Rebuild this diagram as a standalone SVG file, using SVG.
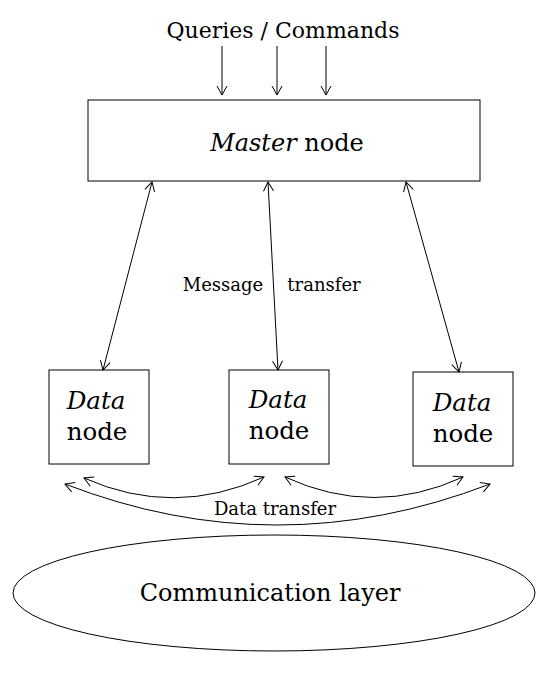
<svg xmlns="http://www.w3.org/2000/svg" width="558" height="674" viewBox="0 0 558 674">
<style>
text{font-family:"DejaVu Serif",serif;fill:#000}
.box{fill:#fff;stroke:#000;stroke-width:1}
.c{fill:none;stroke:#000;stroke-width:1}
.big{font-size:24px}
.dn{font-size:24.5px}
.mid{font-size:22px}
.sm{font-size:18px}
</style>
<defs>
<marker id="ah" viewBox="-10 -6 12 12" refX="0" refY="0" markerWidth="12" markerHeight="12" markerUnits="userSpaceOnUse" orient="auto-start-reverse">
<path d="M-9,-5 L0,0 L-9,5" fill="none" stroke="#000" stroke-width="1"/>
</marker>
</defs>
<rect width="558" height="674" fill="#fff"/>
<g id="queries"><text class="mid" x="283" y="38" text-anchor="middle">Queries / Commands</text></g>
<g id="master">
<rect class="box" x="88" y="100" width="392" height="81"/>
<text class="big" x="287" y="151" text-anchor="middle"><tspan font-style="italic">Master</tspan> node</text>
</g>
<g id="data1">
<rect class="box" x="49" y="370" width="100" height="94"/>
<text class="dn" x="96" y="409" text-anchor="middle" font-style="italic">Data</text>
<text class="dn" x="97" y="440" text-anchor="middle">node</text>
</g>
<g id="data2">
<rect class="box" x="229" y="370" width="100" height="94"/>
<text class="dn" x="278" y="408" text-anchor="middle" font-style="italic">Data</text>
<text class="dn" x="279" y="439" text-anchor="middle">node</text>
</g>
<g id="data3">
<rect class="box" x="413" y="372" width="100" height="94"/>
<text class="dn" x="462" y="411" text-anchor="middle" font-style="italic">Data</text>
<text class="dn" x="463" y="442" text-anchor="middle">node</text>
</g>
<g id="comm">
<ellipse class="box" cx="274" cy="593" rx="261" ry="58"/>
<text class="big" x="270" y="601" text-anchor="middle">Communication layer</text>
</g>
<g id="connectors">
<line class="c" x1="222" y1="46" x2="222" y2="95" marker-end="url(#ah)"/>
<line class="c" x1="277" y1="46" x2="277" y2="95" marker-end="url(#ah)"/>
<line class="c" x1="326" y1="46" x2="326" y2="95" marker-end="url(#ah)"/>
<line class="c" x1="152" y1="182" x2="103" y2="370" marker-start="url(#ah)" marker-end="url(#ah)"/>
<line class="c" x1="268" y1="182" x2="278" y2="370" marker-start="url(#ah)" marker-end="url(#ah)"/>
<line class="c" x1="406" y1="182" x2="459" y2="372" marker-start="url(#ah)" marker-end="url(#ah)"/>
<path class="c" d="M84,478 Q174,518 264,477" marker-start="url(#ah)" marker-end="url(#ah)"/>
<path class="c" d="M285,477 Q374,518 463,477" marker-start="url(#ah)" marker-end="url(#ah)"/>
<path class="c" d="M65,484 Q277,566 490,484" marker-start="url(#ah)" marker-end="url(#ah)"/>
<text class="sm" x="223" y="291" text-anchor="middle">Message</text>
<text class="sm" x="324" y="291" text-anchor="middle">transfer</text>
<text class="sm" x="275" y="515" text-anchor="middle">Data transfer</text>
</g>
</svg>
